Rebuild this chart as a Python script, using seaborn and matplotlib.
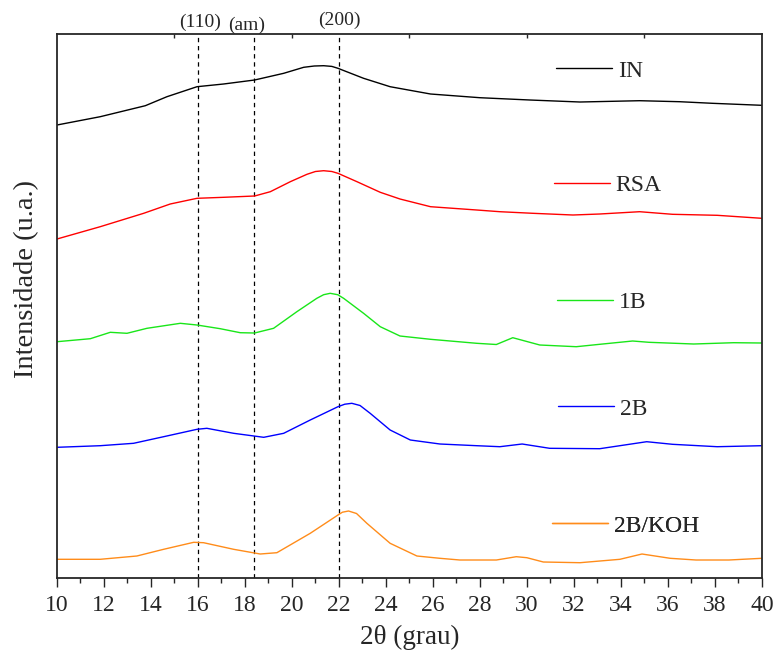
import numpy as np
import pandas as pd
import matplotlib
matplotlib.use("Agg")
import matplotlib.pyplot as plt
from matplotlib.lines import Line2D
from matplotlib.ticker import MultipleLocator, NullLocator
import seaborn as sns

# ---------------- data ----------------
in_x = [10, 11.84, 13.76, 14.68, 15.96, 17.09, 18.41, 19.65, 20.5, 20.95, 21.35, 21.7,
        21.96, 23.05, 24.18, 25.9, 28.0, 30.13, 32.26, 34.8, 36.5, 37.9, 40]
in_y = [453, 461.3, 472.3, 481.3, 491.3, 494, 498, 504.7, 510.7, 512.0, 512.3, 511.6,
        509.7, 499.7, 491.3, 484, 480.3, 478, 476, 477.3, 476.3, 474.7, 472.7]

rsa_x = [10, 11.84, 13.69, 14.82, 15.96, 17.09, 18.41, 19.08, 19.93, 20.64, 21.0, 21.35,
         21.7, 21.96, 22.77, 23.76, 24.6, 25.9, 27.87, 28.85, 30.26, 31.96, 33.1, 34.8,
         36.2, 38.1, 40]
rsa_y = [339, 351.3, 364.7, 374, 379.7, 380.7, 382, 386.3, 396.3, 403.7, 406.5, 407.3,
         406.5, 404.7, 396.3, 385.7, 379, 371.3, 368, 366.3, 364.7, 363, 364, 366.3,
         363.7, 362.7, 359.7]

b1_x = [10, 11.42, 12.27, 12.98, 13.83, 15.25, 15.96, 16.95, 17.8, 18.41, 19.22, 20.21,
        21.06, 21.35, 21.63, 21.95, 22.2, 23.05, 23.76, 24.6, 25.9, 27.87, 28.7, 29.4,
        30.55, 32.1, 33.1, 34.5, 35.2, 37.1, 38.8, 40]
b1_y = [236.3, 239.3, 245.7, 244.7, 249.7, 254.7, 253, 249.3, 245.3, 245, 249.7, 266.3,
        279.7, 283.3, 284.7, 283.3, 279.7, 264.7, 251.3, 242, 238.7, 234.7, 233.5, 240.3,
        233, 231.3, 233.7, 237, 235.7, 234, 235.3, 235]

b2_x = [10, 11.84, 13.26, 14.54, 15.96, 16.38, 17.52, 18.8, 19.65, 20.78, 21.96, 22.25,
        22.55, 22.9, 23.33, 24.18, 25.04, 26.3, 27.87, 28.85, 29.8, 30.97, 33.1, 35.1,
        36.2, 38.1, 40]
b2_y = [130.7, 132.3, 134.7, 141.3, 148.7, 149.7, 144.7, 140.7, 144.7, 158, 171.3, 173.8,
        174.7, 172.5, 164.7, 148, 138, 134, 132.3, 131.3, 134, 129.7, 129.3, 136.3,
        133.7, 131.3, 132.3]

koh_x = [10, 11.84, 13.4, 14.54, 15.82, 16.24, 17.52, 18.65, 19.36, 20.78, 21.96, 22.15,
         22.41, 22.75, 23.19, 24.18, 25.32, 26.3, 27.15, 28.7, 29.55, 30.0, 30.7, 32.26,
         33.96, 34.9, 36.1, 37.2, 38.6, 40]
koh_y = [18.7, 18.7, 22, 28.7, 35.7, 35.3, 28.7, 24, 25.3, 44.7, 63, 65.8, 67, 64.5, 54.7,
         34.7, 22, 19.7, 18, 18, 21.3, 20.3, 16, 15.3, 18.7, 24, 19.7, 18, 18, 19.7]

series_names = ["IN", "RSA", "1B", "2B", "2B/KOH"]
series_colors = ["#000000", "#ff0000", "#19e619", "#0000ff", "#ff8c1a"]
ref_positions = [16.0, 18.4, 22.0]
ref_labels = ["(110)", "(am)", "(200)"]
ref_label_x = [16.09, 18.09, 22.0]
ref_label_y = [1.0129, 1.008, 1.0165]
legend_pos = [(0.708, 0.932), (0.705, 0.722), (0.709, 0.507), (0.711, 0.311), (0.702, 0.096)]

# ---------------- plotting ----------------
sns.set_style("ticks")
plt.rcParams["font.family"] = ["Liberation Serif", "DejaVu Serif"]
plt.rcParams["mathtext.fontset"] = "stix"

fig = plt.figure(figsize=(7.75, 6.54), dpi=100)
ax = fig.add_axes([0.0735, 0.1162, 0.9095, 0.8318])

xs = [in_x, rsa_x, b1_x, b2_x, koh_x]
ys = [in_y, rsa_y, b1_y, b2_y, koh_y]
frames = []
for name, x, y in zip(series_names, xs, ys):
    frames.append(pd.DataFrame({"x": x, "y": y, "amostra": name}))
df = pd.concat(frames, ignore_index=True)

sns.lineplot(data=df, x="x", y="y", hue="amostra", hue_order=series_names,
             palette=dict(zip(series_names, series_colors)), linewidth=1.0,
             legend=False, ax=ax, sort=False, estimator=None)

for xv in ref_positions:
    ax.axvline(xv, color="black", linestyle=(0, (3.5, 3)), linewidth=0.9, zorder=1)
for lx, ly, lab in zip(ref_label_x, ref_label_y, ref_labels):
    ax.text(lx, ly, lab, transform=ax.get_xaxis_transform(), ha="center",
            va="baseline", fontsize=14, clip_on=False)

ax.set_xlim(10, 40)
ax.set_ylim(0, 544)
ax.xaxis.set_major_locator(MultipleLocator(2))
ax.xaxis.set_minor_locator(MultipleLocator(1))
ax.yaxis.set_major_locator(NullLocator())
ax.tick_params(axis="x", which="major", direction="out", length=6.5, width=1.0,
               labelsize=17, pad=6, top=False)
ax.tick_params(axis="x", which="minor", direction="out", length=3.5, width=1.0, top=False)
for sp in ax.spines.values():
    sp.set_linewidth(1.3)
    sp.set_visible(True)

# inward ticks on the top spine every 5
sec = ax.secondary_xaxis("top")
sec.set_xticks([15, 20, 25, 30, 35])
sec.tick_params(direction="in", length=3, width=1.0, labeltop=False)
sec.spines["top"].set_visible(False)

ax.set_xlabel("2θ (grau)", fontsize=19.5, labelpad=6)
ax.set_ylabel("Intensidade (u.a.)", fontsize=20.5, va="center")
ax.yaxis.set_label_coords(-0.043, 0.55)

for name, color, (lx, ly) in zip(series_names, series_colors, legend_pos):
    h = Line2D([], [], color=color, linewidth=1.0)
    leg = ax.legend(handles=[h], labels=[name], loc="center left",
                    bbox_to_anchor=(lx, ly), frameon=False, fontsize=17,
                    handlelength=2.37, handletextpad=0.25, borderpad=0,
                    borderaxespad=0)
    ax.add_artist(leg)

fig.savefig("out.png", dpi=100)
